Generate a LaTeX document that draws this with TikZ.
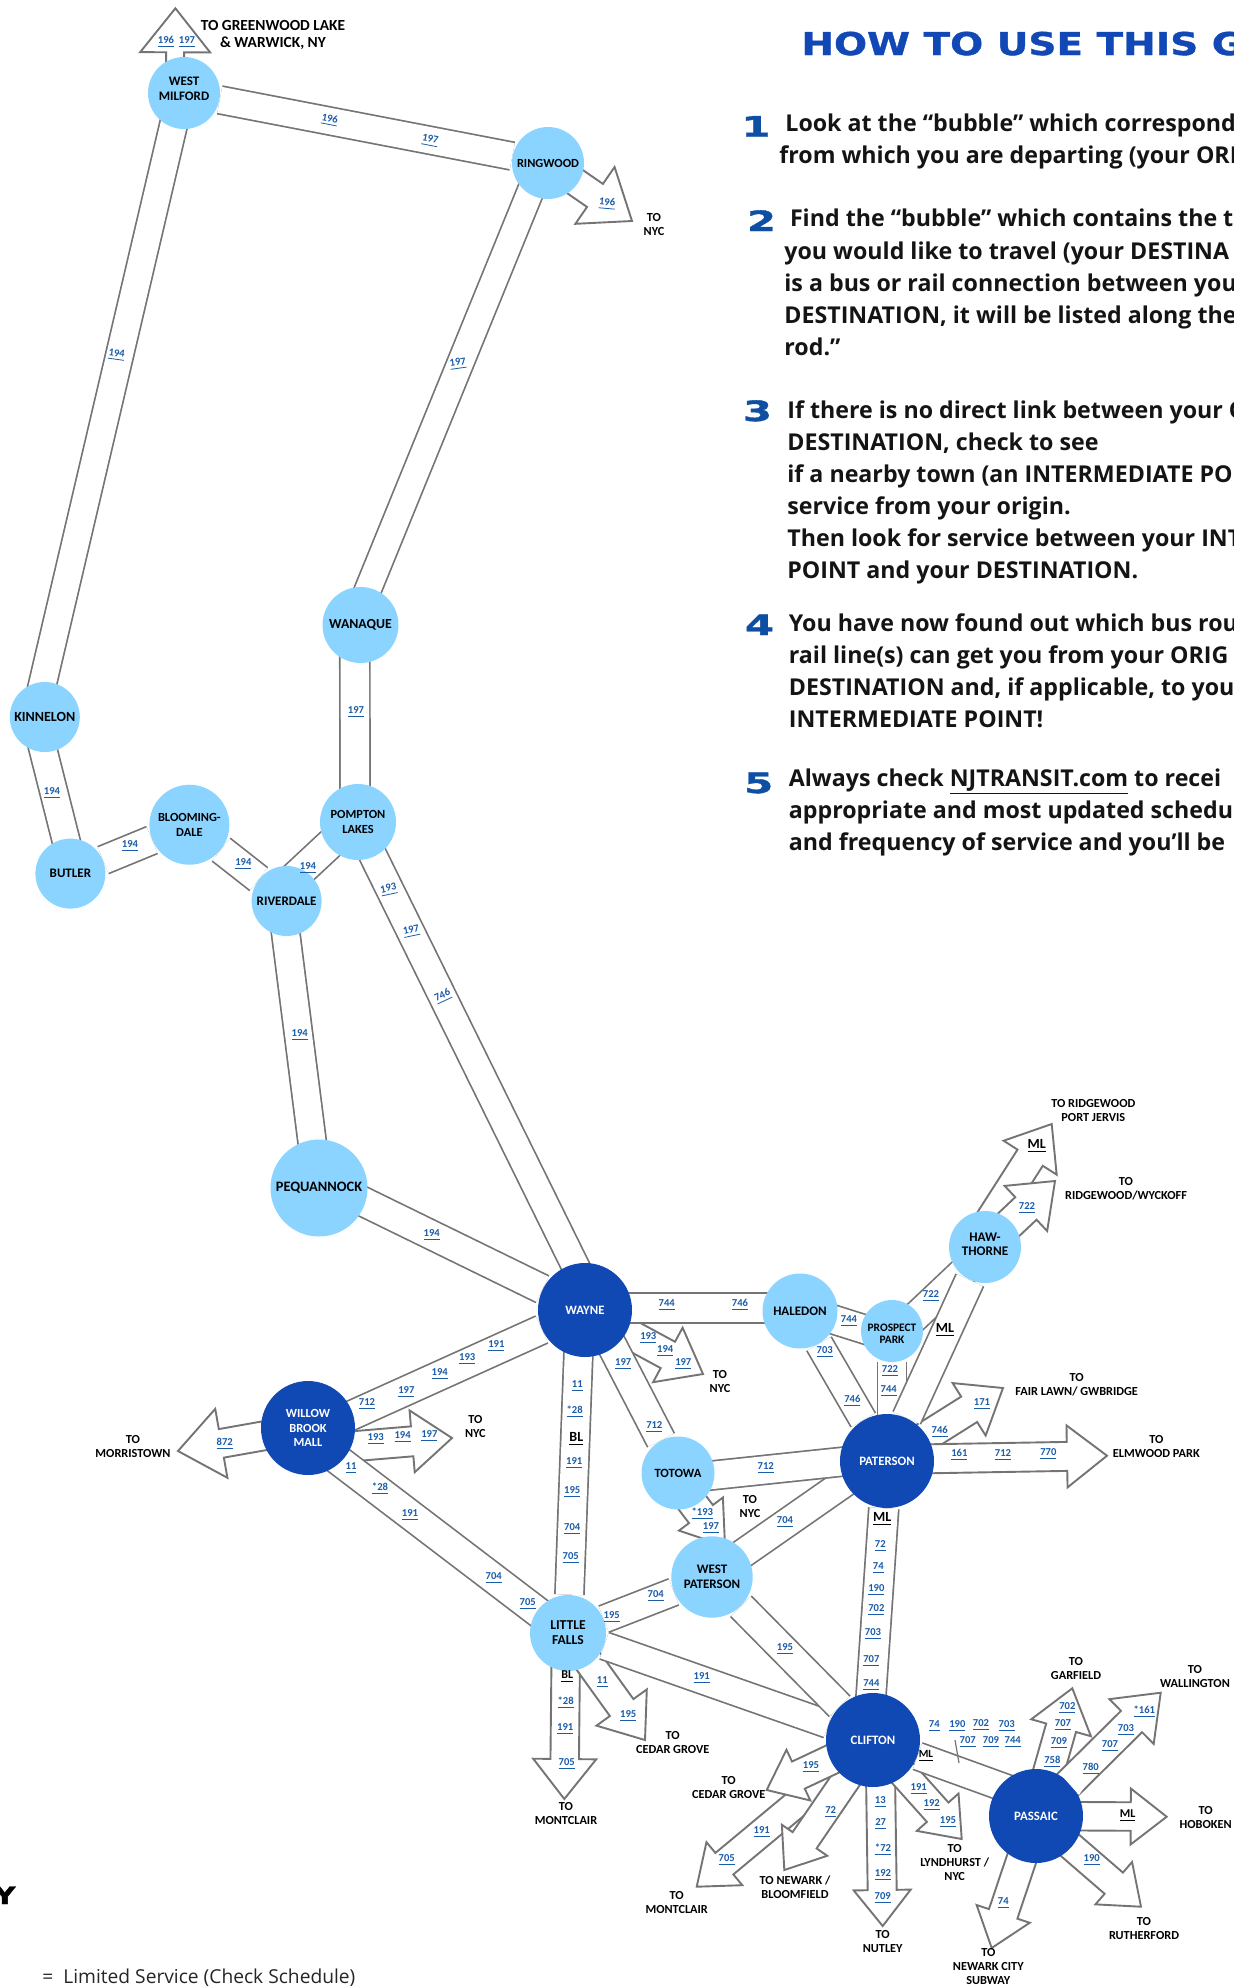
\documentclass[tikz,border=0pt]{standalone}
\usepackage{fontspec}
\usetikzlibrary{calc}
\setmainfont{Carlito}
\newfontfamily\bodyf{Open Sans}
\newfontfamily\titlef[FakeStretch=1.24,FakeBold=1.2]{DejaVu Sans}
\newfontfamily\digitf[FakeStretch=1.5,FakeBold=1.2]{DejaVu Sans}
\newfontfamily\notef{Open Sans}
\definecolor{lightb}{HTML}{8BD4FF}
\definecolor{darkb}{HTML}{1048B4}
\definecolor{routeb}{HTML}{1A5CA8}
\definecolor{linegray}{HTML}{747474}
\definecolor{titleb}{HTML}{1148B6}
\definecolor{digitb}{HTML}{0E4FA3}
\pgfdeclarelayer{bg}
\pgfsetlayers{bg,main}
\tikzset{
  band/.style={draw=linegray,line width=.85pt,double=white,double distance=#1*0.5pt-.85pt},
  band/.default=28,
  headarrow/.style={draw=linegray,line width=.95pt,fill=white,line join=miter},
  lightbub/.style={circle,fill=lightb,inner sep=0pt,minimum size=#1*1pt,text=black,align=center,
     font=\fontsize{6.5}{7.5}\selectfont\bfseries},
  darkbub/.style={circle,fill=darkb,inner sep=0pt,minimum size=#1*1pt,text=white,align=center,
     font=\fontsize{6.4}{7.5}\selectfont\bfseries},
  route/.style={inner sep=0pt,text=routeb,font=\fontsize{5.3}{6}\selectfont\bfseries},
  place/.style={inner sep=0pt,text=black,align=center,font=\fontsize{6.15}{7}\selectfont\bfseries},
  railbig/.style={inner sep=0pt,text=black,font=\fontsize{7}{8}\selectfont\bfseries},
  railsmall/.style={inner sep=0pt,text=black,font=\fontsize{5.5}{6}\selectfont\bfseries},
  bodytext/.style={inner sep=0pt,anchor=base west,text=black!92,font=\fontsize{11.6}{14}\bodyf\bfseries},
  digitmark/.style={inner sep=0pt,anchor=base,text=digitb,font=\fontsize{14}{16}\digitf\bfseries},
}
% from, tip, shaft width, head width, head length (all px)
\newcommand\blockarrow[5]{%
  \coordinate (ff) at (#1);\coordinate (tt) at (#2);
  \pgfmathsetlengthmacro\sh{#3*0.25pt}%
  \pgfmathsetlengthmacro\hd{#4*0.25pt}%
  \pgfmathsetlengthmacro\ln{#5*0.5pt}%
  \coordinate (nn) at ($(tt)!\ln!(ff)$);
  \draw[headarrow] ($(ff)!\sh!90:(tt)$) -- ($(nn)!\sh!90:(tt)$) -- ($(nn)!\hd!90:(tt)$) -- (tt)
     -- ($(nn)!\hd!-90:(tt)$) -- ($(nn)!\sh!-90:(tt)$) -- ($(ff)!\sh!-90:(tt)$);
}
\begin{document}
\begin{tikzpicture}[x=0.5pt,y=-0.5pt]
\useasboundingbox (0,0) rectangle (1234,1986);
\clip (0,0) rectangle (1234,1986);
% bubbles
\node[lightbub=36] (wm) at (184,93) {WEST\\MILFORD\\[-3.1pt]\mbox{}};
\node[lightbub=36,font=\fontsize{6.2}{7.5}\selectfont\bfseries] (ring) at (548,163) {RINGWOOD};
\node[lightbub=38,font=\fontsize{6.9}{7.5}\selectfont\bfseries] (wan) at (360.5,625) {WANAQUE};
\node[lightbub=35,font=\fontsize{7}{7.5}\selectfont\bfseries] (kin) at (44.8,717) {KINNELON};
\node[lightbub=35] (but) at (70.4,873.6) {BUTLER};
\node[lightbub=40,font=\fontsize{6.2}{7.5}\selectfont\bfseries] (blo) at (189.4,824.7) {\mbox{}\\[-3.7pt]BLOOMING-\\DALE};
\node[lightbub=38,font=\fontsize{6.2}{7.5}\selectfont\bfseries] (pom) at (358,822) {\mbox{}\\[-3.5pt]POMPTON\\LAKES};
\node[lightbub=35,font=\fontsize{6.5}{7.5}\selectfont\bfseries] (riv) at (286.6,901) {RIVERDALE};
\node[lightbub=48.5,font=\fontsize{7.2}{7.5}\selectfont\bfseries] (peq) at (319,1188) {PEQUANNOCK};
\node[darkbub=47] (way) at (585,1310) {WAYNE};
\node[darkbub=47,font=\fontsize{6.2}{7.1}\selectfont\bfseries] (wil) at (308,1428) {WILLOW\\BROOK\\MALL};
\node[lightbub=38,font=\fontsize{6.8}{7.5}\selectfont\bfseries] (lit) at (568,1633) {LITTLE\\FALLS};
\node[lightbub=36.5,font=\fontsize{6.3}{7.5}\selectfont\bfseries] (tot) at (678,1473) {TOTOWA};
\node[lightbub=40.7] (wpa) at (712,1577) {WEST\\PATERSON};
\node[lightbub=37.5] (hal) at (800,1311) {HALEDON};
\node[lightbub=31,font=\fontsize{5.7}{6.3}\selectfont\bfseries] (pro) at (892,1331) {\mbox{}\\[0.1pt]PROSPECT\\PARK};
\node[darkbub=47] (pat) at (887,1461) {PATERSON};
\node[lightbub=36,font=\fontsize{6.6}{7}\selectfont\bfseries] (haw) at (985,1247) {HAW-\\THORNE\\[-3.8pt]\mbox{}};
\node[darkbub=47] (cli) at (873,1740) {CLIFTON};
\node[darkbub=47] (pas) at (1036,1816) {PASSAIC};
% free ends of the arrows
\coordinate (tWarwick) at (175.4,8.3);
\coordinate (tRingNyc) at (632,221);
\coordinate (tMorris) at (178,1451);
\coordinate (tWilNyc) at (452,1438);
\coordinate (tWayNyc) at (703,1374);
\coordinate (tTotNyc) at (725,1546);
\coordinate (tPort) at (1051.7,1124);
\coordinate (tWyck) at (1055,1181);
\coordinate (tFair) at (1003,1388);
\coordinate (tElm) at (1107,1455.7);
\coordinate (tLitMont) at (564.3,1799);
\coordinate (tLitCed) at (645,1740);
\coordinate (tCliCed) at (766.7,1790);
\coordinate (tCliMont) at (696.7,1886.7);
\coordinate (tNewark) at (784.3,1870);
\coordinate (tNutley) at (882.7,1926);
\coordinate (tLynd) at (961.7,1839);
\coordinate (tGarf) at (1072.3,1688.3);
\coordinate (tWall) at (1160.7,1692.7);
\coordinate (tHob) at (1166.7,1816.7);
\coordinate (tRuth) at (1141,1906.7);
\coordinate (tCity) at (991.7,1948);
\begin{pgfonlayer}{bg}
\blockarrow{$(wm)+(-9,0)$}{tWarwick}{18}{70}{44}
\blockarrow{ring}{tRingNyc}{28}{69}{45}
\blockarrow{wil}{tMorris}{29}{70}{44}
\blockarrow{$(wil)+(0,22)$}{tWilNyc}{30}{62}{40}
\blockarrow{way}{tWayNyc}{30}{62}{40}
\blockarrow{$(tot)+(-8,0)$}{tTotNyc}{30}{55}{40}
\blockarrow{$(haw)+(-12,0)$}{tPort}{30}{63}{40}
\blockarrow{haw}{tWyck}{31}{62}{40}
\blockarrow{pat}{tFair}{30}{62}{40}
\blockarrow{$(lit)+(-2,0)$}{tLitMont}{28.5}{63}{40}
\blockarrow{lit}{tLitCed}{29}{62}{40}
\blockarrow{cli}{tCliMont}{28}{56}{36}
\blockarrow{cli}{tNewark}{29}{55}{36}
\blockarrow{cli}{tCliCed}{30}{56}{35}
\blockarrow{$(cli)+(7,0)$}{tNutley}{29}{57}{36}
\blockarrow{cli}{tLynd}{29}{56}{36}
\blockarrow{pas}{tGarf}{31}{62}{41}
\blockarrow{pas}{tWall}{30}{63}{41}
\blockarrow{pas}{tHob}{28.5}{56}{36}
\blockarrow{pas}{tRuth}{28}{56}{36}
\blockarrow{pas}{tCity}{30}{56}{36}
% bands
\draw[band] (wm) -- (ring);
\draw[band] ($(wm)+(-3,0)$) -- ($(kin)+(-10,0)$);
\draw[band] ($(kin)+(-10,0)$) -- ($(but)+(4,0)$);
\draw[band=29] (but) -- (blo);
\draw[band=29] (blo) -- (riv);
\draw[band=30] ($(riv)+(0,-16.5)$) -- ($(pom)+(0,-4)$);
\draw[band=30] ($(wan)+(-5.7,0)$) -- ($(pom)+(-3,0)$);
\draw[band=27] ($(wan)+(-7,0)$) -- ($(ring)+(-6,0)$);
\draw[band] ($(pom)+(-1.5,0)$) -- ($(way)+(12,0)$);
\draw[band=28.5] ($(riv)+(-5,0)$) -- ($(peq)+(-1,0)$);
\draw[band=29.5] ($(peq)+(0,-8)$) -- (way);
\draw[band=29.5] (way) -- ($(wil)+(0,7)$);
\draw[band=29] ($(way)+(-5,0)$) -- (lit);
\draw[band=30] ($(wil)+(0,9)$) -- ($(lit)+(0,2)$);
\draw[band=30] ($(way)+(0,-2)$) -- ($(hal)+(0,-3)$);
\draw[band=29] ($(hal)+(0,-2)$) -- ($(pro)+(0,7)$);
\draw[band=28] (hal) -- (pat);
\draw[band=29] (pro) -- ($(pat)+(5,0)$);
\draw[band=29] ($(pro)+(0,8)$) -- ($(haw)+(0,4)$);
\draw[band=30] (pat) -- (haw);
\draw[band=30] ($(way)+(8.5,0)$) -- (tot);
\draw[band=29] ($(wpa)+(0,-2)$) -- ($(pat)+(0,-8)$);
\draw[band=29] ($(tot)+(0,6)$) -- ($(pat)+(0,-4)$);
\draw[band=28] (lit) -- (wpa);
\draw[band=28] (lit) -- (cli);
\draw[band=29] (wpa) -- (cli);
\draw[band=30] (pat) -- ($(cli)+(-5,0)$);
\draw[band=28] (cli) -- ($(pas)+(0,-17)$);
\blockarrow{$(pat)+(0,-1.5)$}{tElm}{29}{62}{40}
\end{pgfonlayer}
% the white chip where the Wallington arrow cuts the Passaic bubble
\fill[white] (1063,1777) -- (1079,1795) -- (1090,1778) -- (1074,1764) -- cycle;
\coordinate (tickA) at (955,1740);
\coordinate (tickB) at (959,1763);
\draw[draw=linegray,line width=.6pt] (tickA) -- (tickB);
% route numbers
\foreach \x/\y/\r/\t [count=\i] in {
166/42/0/196,187/42/0/197,329.5/120/-11/196,430/141/-11/197,607/204/-5/196,116.5/355/-8/194,458/364/8/197,
52/793/0/194,130/846/0/194,243.4/864/0/194,308/867.7/0/194,356/712/0/197,388.8/890/12/193,411.4/931.6/12/197,443/996.5/25/746,299.7/1034.8/0/194,431.7/1234.7/0/194,
496.4/1346/0/191,467.3/1359/0/193,439.7/1374/0/194,406.4/1392/0/197,367/1404/0/712,375.8/1439/0/193,402.6/1437/0/194,429.4/1436/0/197,224.7/1444/0/872,
351/1468/0/11,380/1489/0/*28,410/1514.7/0/191,493.7/1578/0/704,527.8/1604/0/705,
577.3/1386/0/11,574.7/1412/0/*28,574.3/1463/0/191,572.3/1492/0/195,572.3/1529/0/704,570.7/1558/0/705,655.7/1596/0/704,611.7/1617/0/195,
666.7/1305/0/744,740/1305/0/746,648.3/1338/0/193,665.3/1351/0/194,683.3/1364/0/197,623.3/1364/0/197,654.3/1427/0/712,765.7/1468/0/712,702.3/1514/0/*193,711/1528/0/197,785/1522/0/704,
849/1321/0/744,824.7/1352/0/703,852.3/1401/0/746,890/1371/0/722,888.7/1391/0/744,931/1296/0/722,
880.3/1546/0/72,878.3/1568/0/74,876.3/1590/0/190,876.3/1610/0/702,873/1634/0/703,871.3/1661/0/707,871.3/1685/0/744,785/1648.7/0/195,701.7/1678/0/191,
602.3/1682/0/11,565.7/1703/0/*28,565.3/1729/0/191,566.7/1764/0/705,628.3/1715.7/0/195,811/1766.7/0/195,830.7/1812/0/72,761.7/1832/0/191,726.7/1860/0/705,
880.3/1802/0/13,880.7/1824/0/27,883/1850/0/*72,883/1875/0/192,882.7/1898/0/709,
934.3/1726/0/74,957.3/1726/0/190,981/1725/0/702,1006.7/1726/0/703,967.7/1742/0/707,991/1742/0/709,1012.7/1742/0/744,918.7/1789/0/191,931.7/1805/0/192,948/1821.7/0/195,
1067.3/1708/0/702,1063/1725/0/707,1059/1743/0/709,1052.3/1762/0/758,1144.3/1712/0/*161,1126/1730/0/703,1110/1746/0/707,1090.7/1769/0/780,1091.7/1860/0/190,1003.3/1903/0/74,
1027/1208/0/722,982/1404/0/171,939.7/1432/0/746,959.3/1455/0/161,1003/1455/0/712,1048.3/1454/0/770}
  \node[route,rotate=\r] (rt\i) at (\x,\y) {\underline{\t}};
% rail line labels
\node[railbig] (blA) at (576.3,1439) {\underline{BL}};
\node[railsmall,font=\fontsize{6}{7}\selectfont\bfseries] (blB) at (567.3,1677) {\underline{BL}};
\node[railbig] (mlA) at (882.3,1519) {\underline{ML}};
\node[railbig] (mlB) at (945,1330) {\underline{ML}};
\node[railbig] (mlC) at (1036.7,1146) {\underline{ML}};
\node[railsmall] (mlD) at (926,1756) {\underline{ML}};
\node[railsmall,font=\fontsize{6}{7}\selectfont\bfseries] (mlE) at (1127.7,1816) {\underline{ML}};
% destinations
\node[place,font=\fontsize{7.7}{8.5}\selectfont\bfseries] (pA) at (273,35) {TO GREENWOOD LAKE\\\& WARWICK, NY};
\node[place] (pB) at (654,225) {TO\\NYC};
\node[place] (pC) at (475.3,1426) {TO\\NYC};
\node[place] (pD) at (133,1446) {TO\\MORRISTOWN};
\node[place] (pE) at (720,1381) {TO\\NYC};
\node[place] (pF) at (750,1506) {TO\\NYC};
\node[place] (pG) at (672.7,1742) {TO\\CEDAR GROVE};
\node[place] (pH) at (566,1813.7) {TO\\MONTCLAIR};
\node[place] (pI) at (728.7,1787) {TO\\CEDAR GROVE};
\node[place] (pJ) at (676.7,1902) {TO\\MONTCLAIR};
\node[place] (pK) at (795,1887) {TO NEWARK /\\BLOOMFIELD};
\node[place] (pL) at (882.7,1941.7) {TO\\NUTLEY};
\node[place] (pM) at (954.7,1862) {TO\\LYNDHURST /\\NYC};
\node[place] (pN) at (1076,1668) {TO\\GARFIELD};
\node[place] (pO) at (1195,1676.7) {TO\\WALLINGTON};
\node[place] (pP) at (1205.7,1817) {TO\\HOBOKEN};
\node[place] (pQ) at (1144,1928) {TO\\RUTHERFORD};
\node[place] (pR) at (988.3,1966) {TO\\NEWARK CITY\\SUBWAY};
\node[place] (pS) at (1093.3,1110) {TO RIDGEWOOD\\PORT JERVIS};
\node[place] (pT) at (1126,1189) {TO\\RIDGEWOOD/WYCKOFF};
\node[place] (pU) at (1076.7,1385) {TO\\FAIR LAWN/ GWBRIDGE};
\node[place] (pV) at (1156.3,1446) {TO\\ELMWOOD PARK};
% how-to panel
\node[inner sep=0pt,anchor=base west,text=titleb,font=\fontsize{15.7}{18}\titlef\bfseries] (title) at (801,55) {HOW TO USE THIS G};
\node[digitmark] (d1) at (756,136.5) {1};
\node[digitmark] (d2) at (761.5,231) {2};
\node[digitmark] (d3) at (757.5,421) {3};
\node[digitmark] (d4) at (759.5,635) {4};
\node[digitmark] (d5) at (758.7,793) {5};
\node[bodytext] (b1) at (785,131) {Look at the “bubble” which correspond};
\node[bodytext] (b2) at (779,163) {from which you are departing (your ORI};
\node[bodytext] (b3) at (789.6,226.5) {Find the “bubble” which contains the t};
\node[bodytext] (b4) at (784,259) {you would like to travel (your DESTINA};
\node[bodytext] (b5) at (784,291) {is a bus or rail connection between you};
\node[bodytext] (b6) at (784,323) {DESTINATION, it will be listed along the};
\node[bodytext] (b7) at (784,355) {rod.”};
\node[bodytext] (b8) at (787,418) {If there is no direct link between your O};
\node[bodytext] (b9) at (787,450) {DESTINATION, check to see};
\node[bodytext] (b10) at (787,482) {if a nearby town (an INTERMEDIATE PO};
\node[bodytext] (b11) at (787,514) {service from your origin.};
\node[bodytext] (b12) at (787,546) {Then look for service between your INT};
\node[bodytext] (b13) at (787,578) {POINT and your DESTINATION.};
\node[bodytext] (b14) at (788.5,631) {You have now found out which bus rou};
\node[bodytext] (b15) at (788.5,663) {rail line(s) can get you from your ORIG};
\node[bodytext] (b16) at (788.5,695) {DESTINATION and, if applicable, to you};
\node[bodytext] (b17) at (788.5,727) {INTERMEDIATE POINT!};
\node[bodytext] (b18) at (788.5,786) {Always check \underline{NJTRANSIT.com} to recei};
\node[bodytext] (b19) at (788.5,818) {appropriate and most updated schedu};
\node[bodytext] (b20) at (788.5,850) {and frequency of service and you’ll be};
% key fragment
\node[inner sep=0pt,anchor=base east,text=black,font=\fontsize{12}{14}\titlef\bfseries] (keyY) at (16,1904) {Y};
\node[inner sep=0pt,anchor=base west,text=black!85,font=\fontsize{9.6}{11}\notef] (note) at (42,1983) {=\hspace{5pt}Limited Service (Check Schedule)};
\end{tikzpicture}
\end{document}
